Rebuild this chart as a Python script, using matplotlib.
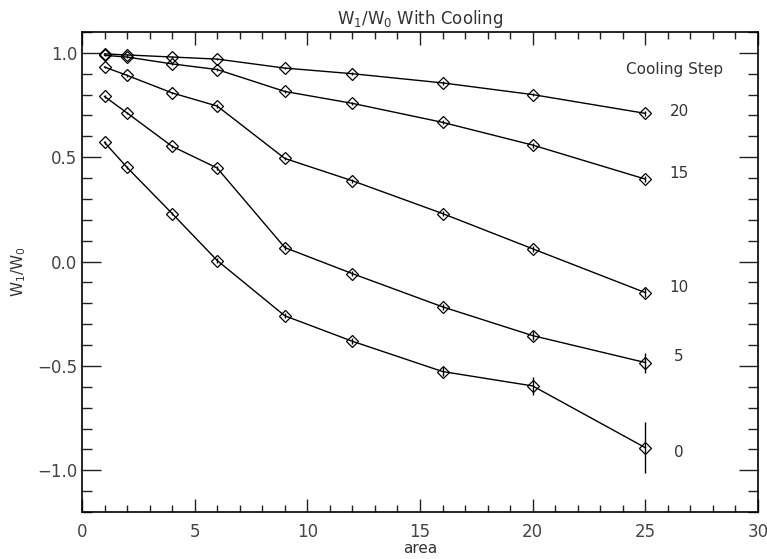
import matplotlib
matplotlib.use("Agg")
import matplotlib.pyplot as plt
from matplotlib.ticker import MultipleLocator, FuncFormatter

area = [1, 2, 4, 6, 9, 12, 16, 20, 25]
steps = ["20", "15", "10", "5", "0"]
w20 = [0.995, 0.990, 0.980, 0.970, 0.927, 0.900, 0.856, 0.800, 0.710]
w15 = [0.988, 0.980, 0.947, 0.920, 0.815, 0.758, 0.667, 0.558, 0.395]
w10 = [0.932, 0.892, 0.808, 0.745, 0.494, 0.387, 0.230, 0.061, -0.149]
w5 = [0.791, 0.712, 0.552, 0.448, 0.067, -0.058, -0.217, -0.355, -0.484]
w0 = [0.571, 0.451, 0.230, 0.005, -0.260, -0.382, -0.527, -0.596, -0.892]
e20 = [0.005, 0.005, 0.005, 0.006, 0.006, 0.006, 0.008, 0.008, 0.012]
e15 = [0.005, 0.005, 0.006, 0.006, 0.008, 0.008, 0.010, 0.012, 0.015]
e10 = [0.005, 0.006, 0.006, 0.008, 0.008, 0.010, 0.012, 0.015, 0.020]
e5 = [0.006, 0.006, 0.008, 0.008, 0.010, 0.012, 0.015, 0.020, 0.048]
e0 = [0.006, 0.008, 0.008, 0.010, 0.012, 0.015, 0.020, 0.045, 0.122]
label_y = [0.72, 0.42, -0.125, -0.455, -0.916]

series = [w20, w15, w10, w5, w0]
errs = [e20, e15, e10, e5, e0]

plt.rcParams['font.family'] = ['DejaVu Sans']
fig = plt.figure(figsize=(7.67, 5.59), dpi=100)
ax = fig.add_axes([0.1069, 0.0841, 0.8814, 0.8587])

for ys, es in zip(series, errs):
    ax.errorbar(area, ys, yerr=es, color='black', lw=1.0, elinewidth=1.0,
                capsize=0, marker='D', markersize=6.5, markerfacecolor='none',
                markeredgecolor='black', markeredgewidth=0.9)

for s, yl in zip(steps, label_y):
    ax.text(26.5, yl, s, ha='center', va='center', fontsize=11, color='#333333')
ax.text(26.3, 0.92, "Cooling Step", ha='center', va='center', fontsize=11, color='#333333')

ax.set_xlim(0, 30)
ax.set_ylim(-1.2, 1.1)
ax.xaxis.set_major_locator(MultipleLocator(5))
ax.xaxis.set_minor_locator(MultipleLocator(1))
ax.yaxis.set_major_locator(MultipleLocator(0.5))
ax.yaxis.set_minor_locator(MultipleLocator(0.1))
ax.yaxis.set_major_formatter(FuncFormatter(lambda v, p: ("%.1f" % v).replace("-", "\u2212")))
ax.tick_params(axis='both', which='both', direction='in', top=True, right=True,
               labelsize=12, labelcolor='#444444', width=1.0, color='#222222')
ax.tick_params(axis='y', which='major', length=13.5)
ax.tick_params(axis='y', which='minor', length=7)
ax.tick_params(axis='x', which='major', length=9.5)
ax.tick_params(axis='x', which='minor', length=5)
ax.tick_params(axis='x', pad=8)
for sp in ax.spines.values():
    sp.set_linewidth(1.2)

ax.set_title(r"W$_1$/W$_0$ With Cooling", fontsize=12, color='#333333', pad=6)
ax.set_xlabel("area", fontsize=11, color='#333333', labelpad=0)
ax.set_ylabel(r"W$_1$/W$_0$", fontsize=11, color='#333333')
ax.yaxis.set_label_coords(-0.08, 0.5)

fig.savefig("out.png", dpi=100)
